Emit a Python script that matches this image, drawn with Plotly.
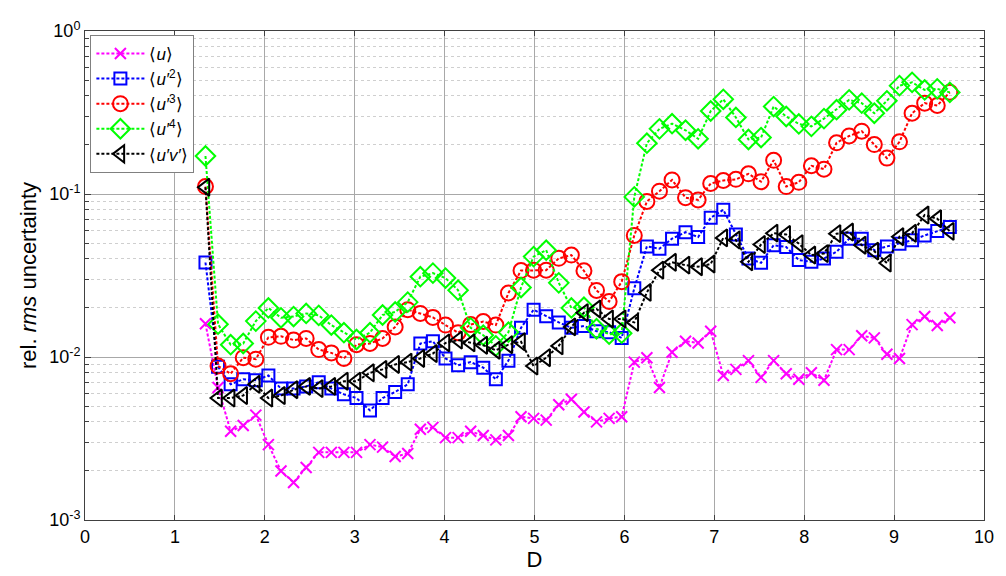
import plotly.graph_objects as go

# streamwise position (in diameters)
D = [1.34, 1.48, 1.62, 1.76, 1.90, 2.04, 2.18, 2.32, 2.46, 2.60,
     2.74, 2.88, 3.02, 3.17, 3.31, 3.45, 3.59, 3.73, 3.87, 4.01,
     4.15, 4.29, 4.43, 4.57, 4.71, 4.85, 4.99, 5.13, 5.27, 5.41,
     5.55, 5.69, 5.83, 5.97, 6.11, 6.25, 6.39, 6.53, 6.68, 6.82,
     6.96, 7.10, 7.24, 7.38, 7.52, 7.66, 7.80, 7.94, 8.08, 8.22,
     8.36, 8.50, 8.64, 8.78, 8.92, 9.06, 9.20, 9.34, 9.48, 9.62]

u_mean = [0.016, 0.0065, 0.0035, 0.0038, 0.0044, 0.0029, 0.0020, 0.0017, 0.0021, 0.0026,
          0.0026, 0.0026, 0.0026, 0.0029, 0.0028, 0.00245, 0.00256, 0.0036, 0.0037, 0.0032,
          0.0032, 0.0035, 0.0033, 0.0031, 0.0033, 0.0043, 0.0042, 0.0041, 0.0051, 0.0055,
          0.0046, 0.0040, 0.0042, 0.0043, 0.0093, 0.0099, 0.0065, 0.0107, 0.0125, 0.0122,
          0.0144, 0.0077, 0.0084, 0.0095, 0.0075, 0.0095, 0.0079, 0.0073, 0.0080, 0.0072,
          0.0111, 0.0111, 0.0135, 0.0131, 0.0104, 0.0098, 0.0158, 0.0177, 0.0156, 0.0174]

u2 = [0.038, 0.0087, 0.0068, 0.0073, 0.0072, 0.0077, 0.0064, 0.0064, 0.0066, 0.0070,
      0.0064, 0.0059, 0.0056, 0.0047, 0.0056, 0.0061, 0.0068, 0.0121, 0.0125, 0.0098,
      0.0089, 0.0093, 0.0086, 0.0073, 0.0095, 0.0151, 0.0195, 0.0178, 0.0163, 0.0151,
      0.0155, 0.0144, 0.0142, 0.0131, 0.0264, 0.0477, 0.0462, 0.0532, 0.0583, 0.0544,
      0.0714, 0.080, 0.0565, 0.0402, 0.0378, 0.0485, 0.0473, 0.0393, 0.0384, 0.0402,
      0.0442, 0.0532, 0.0532, 0.0452, 0.0477, 0.0496, 0.052, 0.0557, 0.0592, 0.0627]

u3 = [0.111, 0.0088, 0.0079, 0.0099, 0.0097, 0.0132, 0.0134, 0.0127, 0.0130, 0.0111,
      0.0106, 0.0098, 0.0119, 0.0121, 0.0130, 0.0153, 0.0195, 0.0185, 0.0175, 0.0157,
      0.0141, 0.0158, 0.0165, 0.0157, 0.0247, 0.0339, 0.0341, 0.0341, 0.0403, 0.0422,
      0.0338, 0.0256, 0.0219, 0.029, 0.0557, 0.090, 0.104, 0.122, 0.095, 0.092,
      0.116, 0.121, 0.123, 0.133, 0.119, 0.161, 0.111, 0.118, 0.149, 0.142,
      0.206, 0.227, 0.243, 0.201, 0.166, 0.209, 0.313, 0.361, 0.349, 0.421]

u4 = [0.171, 0.0159, 0.0119, 0.0121, 0.0166, 0.0200, 0.0174, 0.0177, 0.0185, 0.0180,
      0.0157, 0.0141, 0.0128, 0.0141, 0.0181, 0.0189, 0.0217, 0.0311, 0.0327, 0.0305,
      0.0257, 0.0151, 0.0136, 0.0117, 0.0142, 0.0267, 0.0413, 0.0452, 0.0285, 0.0200,
      0.0202, 0.0149, 0.0138, 0.0140, 0.096, 0.205, 0.251, 0.270, 0.246, 0.218,
      0.323, 0.381, 0.295, 0.216, 0.222, 0.344, 0.299, 0.269, 0.260, 0.290,
      0.329, 0.378, 0.361, 0.313, 0.373, 0.462, 0.484, 0.435, 0.442, 0.420]

uv = [0.110, 0.0056, 0.0056, 0.0058, 0.0068, 0.0056, 0.0058, 0.0063, 0.0066, 0.0064,
      0.0066, 0.0071, 0.0071, 0.0080, 0.0084, 0.0090, 0.0093, 0.0098, 0.0105, 0.0122,
      0.0127, 0.0122, 0.0118, 0.0110, 0.0119, 0.0124, 0.0088, 0.0099, 0.0117, 0.0153,
      0.0187, 0.0197, 0.0171, 0.0171, 0.0163, 0.0249, 0.0341, 0.0381, 0.0366, 0.0358,
      0.0372, 0.0538, 0.0522, 0.0384, 0.0490, 0.0575, 0.0565, 0.0496, 0.0422, 0.0431,
      0.0571, 0.0584, 0.0485, 0.0446, 0.0377, 0.0547, 0.0574, 0.0743, 0.0705, 0.0590]

decades = [1e-3, 1e-2, 1e-1, 1]
decade_labels = ["10<sup>-3</sup>", "10<sup>-2</sup>", "10<sup>-1</sup>", "10<sup>0</sup>"]
minor_vals = [m * d for d in decades[:-1] for m in range(2, 10)]

series = [
    ("⟨<i>u</i>⟩", u_mean, "#FF00FF", "x-thin-open", 11),
    ("⟨<i>u′</i><sup>2</sup>⟩", u2, "#0000FF", "square-open", 12),
    ("⟨<i>u′</i><sup>3</sup>⟩", u3, "#FF0000", "circle-open", 15),
    ("⟨<i>u′</i><sup>4</sup>⟩", u4, "#00FF00", "diamond-open", 15),
    ("⟨<i>u′v′</i>⟩", uv, "#000000", "triangle-left-open", 15),
]

fig = go.Figure()
for name, vals, color, symbol, size in series:
    fig.add_trace(go.Scatter(
        x=D, y=vals, name=name, mode="lines+markers",
        line=dict(color=color, width=2, dash="3px,2px"),
        marker=dict(symbol=symbol, size=size, color=color,
                    line=dict(color=color, width=2)),
    ))

font_family = "Liberation Sans, Arial, sans-serif"
fig.update_layout(
    width=1006, height=576,
    margin=dict(l=85, r=13, t=31, b=54),
    paper_bgcolor="white", plot_bgcolor="white",
    font=dict(family=font_family, size=18, color="black"),
    showlegend=True,
    legend=dict(x=0.006, y=0.992, xanchor="left", yanchor="top",
                bgcolor="white", bordercolor="#808080", borderwidth=1,
                font=dict(size=17), itemwidth=48, tracegroupgap=0),
    xaxis=dict(
        range=[0, 10], dtick=1, tick0=0,
        showline=True, linecolor="#404040", linewidth=1, mirror="allticks",
        ticks="inside", ticklen=5, tickcolor="#404040",
        showgrid=True, gridcolor="#a8a8a8", gridwidth=1,
        zeroline=False,
        title=dict(text="D", standoff=2),
    ),
    yaxis=dict(
        type="log", range=[-3, 0],
        tickmode="array", tickvals=decades, ticktext=decade_labels,
        showline=True, linecolor="#404040", linewidth=1, mirror="allticks",
        ticks="inside", ticklen=6, tickcolor="#404040",
        showgrid=True, gridcolor="#a8a8a8", gridwidth=1,
        zeroline=False,
        minor=dict(tickmode="array", tickvals=minor_vals,
                   ticks="inside", ticklen=4, tickcolor="#404040",
                   showgrid=True, gridcolor="#cfcfcf", griddash="dot"),
        title=dict(text="rel. <i>rms</i> uncertainty", standoff=6),
    ),
)

fig.write_html("out.html")
